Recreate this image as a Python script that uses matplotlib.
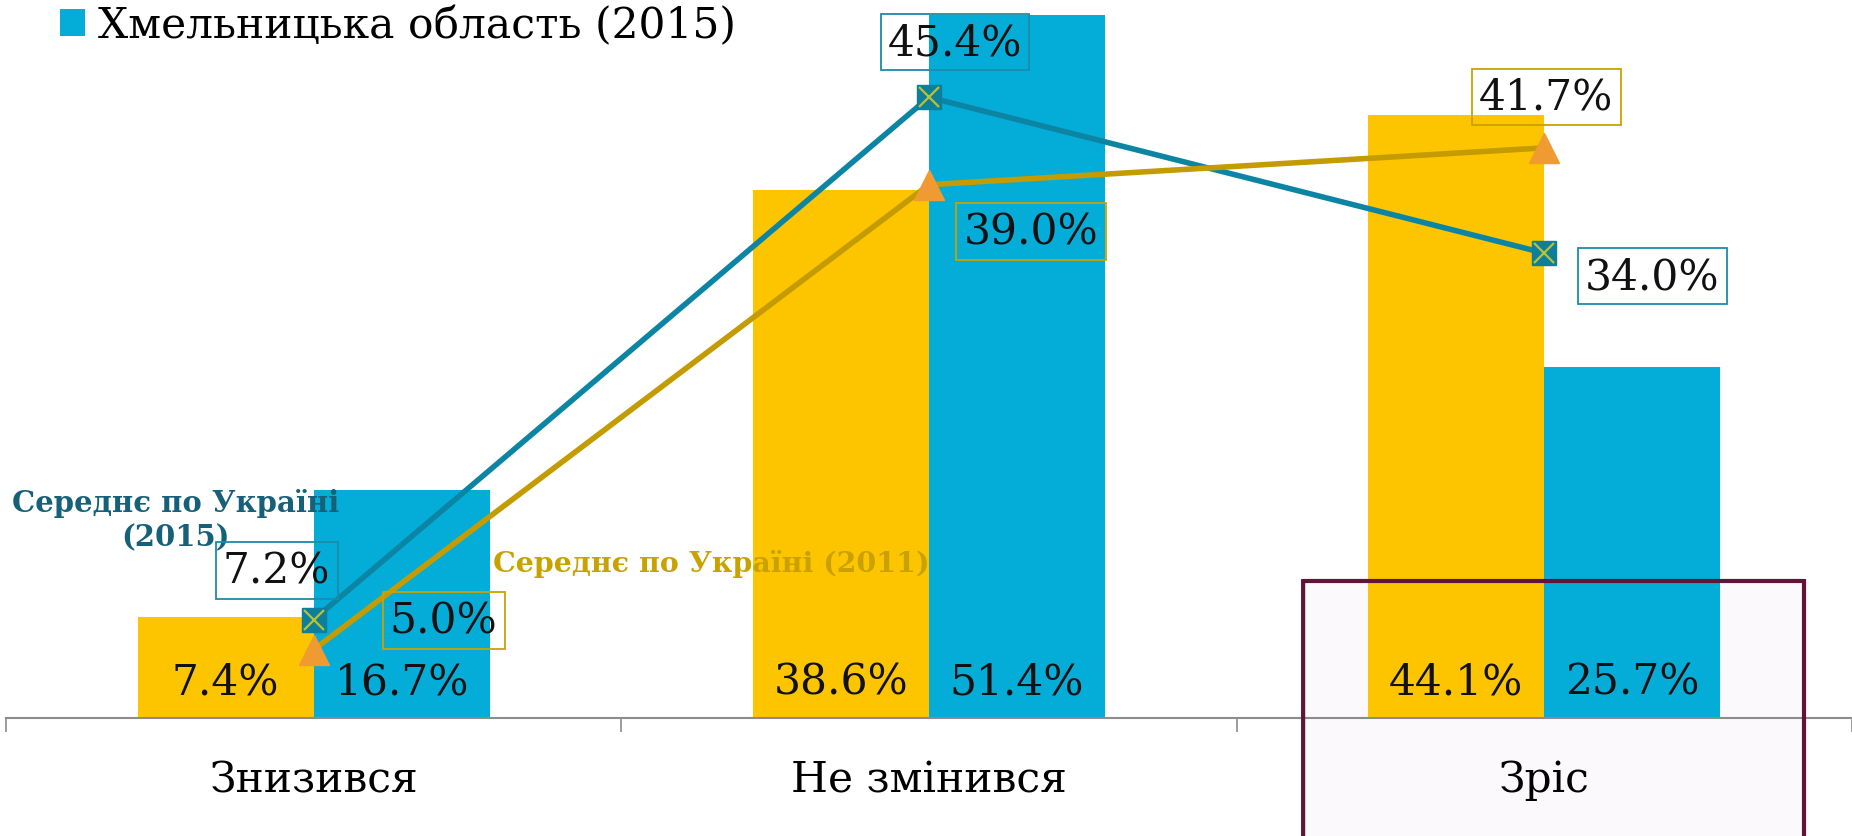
import matplotlib.pyplot as plt
from matplotlib.patches import Rectangle, FancyBboxPatch
import numpy as np

plt.rcParams['font.family'] = ['DejaVu Serif']

categories = ['Знизився', 'Не змінився', 'Зріс']
region_2011 = [7.4, 38.6, 44.1]
region_2015 = [16.7, 51.4, 25.7]
ukraine_2015 = [7.2, 45.4, 34.0]
ukraine_2011 = [5.0, 39.0, 41.7]
legend_label = 'Хмельницька область (2015)'
series_2015 = 'Середнє по Україні\n(2015)'
series_2011 = 'Середнє по Україні (2011)'

YELLOW = '#FCC500'
BLUE = '#03ADD8'
TEAL = '#0C85A4'
GOLD = '#C49B00'
ORANGE = '#F09B32'

W, H = 1852, 837
fig = plt.figure(figsize=(W / 100, H / 100), dpi=100)
# axes in pixel terms: left 6, baseline 719 from top, ylim 0..52
ax = fig.add_axes([6 / W, (H - 719) / H, 1846 / W, 711 / H])
ax.set_xlim(-0.5, 2.5)
ax.set_ylim(0, 52)

x = np.arange(len(categories))
bw = 0.286
b1 = ax.bar(x - bw / 2, region_2011, bw, color=YELLOW, zorder=1)
b2 = ax.bar(x + bw / 2, region_2015, bw, color=BLUE, zorder=1)

for bars, vals in ((b1, region_2011), (b2, region_2015)):
    for r, v in zip(bars, vals):
        ax.annotate(f'{v:.1f}%', (r.get_x() + r.get_width() / 2, 0),
                    xytext=(0, 26), textcoords='offset points',
                    ha='center', va='center', fontsize=30.5, color='#111111', zorder=6)

# lines
ax.plot(x, ukraine_2015, color=TEAL, lw=4, zorder=3)
ax.plot(x, ukraine_2011, color=GOLD, lw=4, zorder=3)
ax.plot(x, ukraine_2015, ls='none', marker='s', ms=17, mfc='#0E7F9A', mec='#0E7F9A', zorder=4)
ax.plot(x, ukraine_2015, ls='none', marker='x', ms=15, mew=1.6, color='#B8C232', zorder=4.5)
ax.plot(x, ukraine_2011, ls='none', marker='^', ms=21, mfc=ORANGE, mec=ORANGE, zorder=4)

off_2015 = [(-26.6, 35.3), (18.7, 39.6), (77.8, -16.6)]
off_2011 = [(93.6, 20.9), (73.4, -33.8), (1.4, 36.7)]
for vals, offs, ec in ((ukraine_2015, off_2015, '#1A8CAB'), (ukraine_2011, off_2011, '#C9A200')):
    for xi, v, o in zip(x, vals, offs):
        ax.annotate(f'{v:.1f}%', (xi, v), xytext=o, textcoords='offset points',
                    ha='center', va='center', fontsize=30.5, color='#111111', zorder=7,
                    bbox=dict(boxstyle='square,pad=0.17', fc='none', ec=ec, lw=1.3))

ax.text(-0.224, 14.5, series_2015, ha='center', va='center', fontsize=21,
        fontweight='bold', color='#17607A', linespacing=1.25, zorder=6)
ax.text(0.647, 11.3, series_2011, ha='center', va='center', fontsize=20.5,
        fontweight='bold', color='#C9A200', zorder=6)

# highlight box around the last category
ax.add_patch(Rectangle((1.608, -20), 0.814, 30.02, fc='#FBF9FB', ec='none',
                       zorder=0.5, clip_on=False))
ax.add_patch(FancyBboxPatch((1.608, -20), 0.814, 30.02, boxstyle='round,pad=0,rounding_size=0.005',
                            fc='none', ec='#5E1537', lw=3, zorder=8, clip_on=False))

for s in ('top', 'right', 'left'):
    ax.spines[s].set_visible(False)
ax.spines['bottom'].set_color('#8C8C8C')
ax.spines['bottom'].set_linewidth(1.5)
ax.spines['bottom'].set_zorder(2)
ax.set_yticks([])
ax.set_xticks([-0.5, 0.5, 1.5, 2.5])
ax.set_xticklabels([])
ax.tick_params(axis='x', which='major', length=10, width=1.2, color='#8C8C8C')
ax.set_xticks(x, minor=True)
ax.set_xticklabels(categories, minor=True, fontsize=30.5)
ax.tick_params(axis='x', which='minor', length=0, pad=29)

fig.legend(handles=[b2], labels=[legend_label], loc='center left',
           bbox_to_anchor=(60 / W, 1 - 26 / H), frameon=False, fontsize=30.5,
           handlelength=0.6, handleheight=0.6, handletextpad=0.3,
           borderpad=0, borderaxespad=0)

fig.savefig('out.png', dpi=100)
